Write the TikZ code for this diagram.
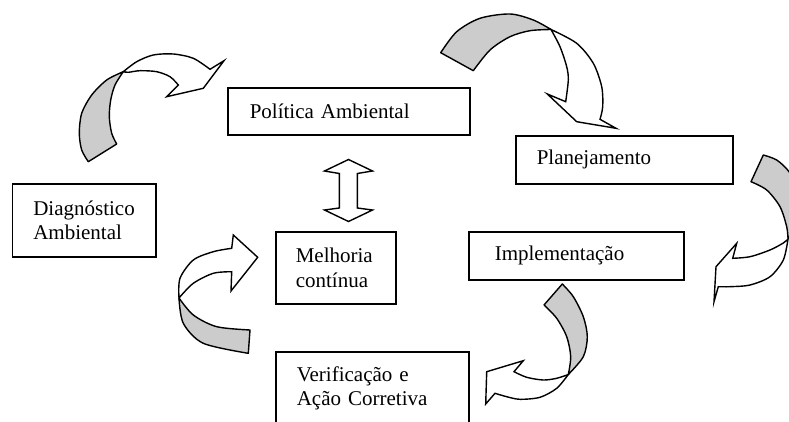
\documentclass[tikz,border=0pt]{standalone}
\usepackage{fontspec}
\setmainfont{Liberation Serif}
\definecolor{ribbon}{RGB}{204,204,204}
\begin{document}
\hyphenpenalty=10000 \exhyphenpenalty=10000
\begin{tikzpicture}[x=1pt,y=-1pt,
  box/.style={draw, line width=1.6pt, anchor=north west, align=left, inner ysep=0pt,
              font=\fontsize{21}{24.5}\selectfont},
  back/.style={fill=ribbon, draw, line width=1.4pt, line join=round},
  front/.style={fill=white, draw, line width=1.4pt, line join=miter}]
\useasboundingbox (0,0) rectangle (789,422);

% boxes
\node[box, inner xsep=22pt, text width=198pt, minimum height=47pt] (pol) at (227,87) {Política Ambiental};
\node[box, inner xsep=21pt, text width=175pt, minimum height=48pt] (plan) at (515,135) {Planejamento};
\node[box, inner xsep=21pt, text width=101.5pt, minimum height=73pt] (diag) at (11.5,183) {Diagnóstico\\Ambiental};
\node[box, inner xsep=20pt, text width=80pt, minimum height=72pt] (melh) at (275,231) {Melhoria\\contínua};
\node[box, inner xsep=26pt, text width=163pt, minimum height=48pt] (impl) at (468,231) {Implementação};
\node[box, inner xsep=21pt, text width=151pt, minimum height=73pt] (verif) at (275,351) {Verificação e\\Ação Corretiva};

% arrow A: Diagnostico -> Politica
\draw[back] plot[smooth] coordinates {(88.3,161.7) (81.7,150) (79.3,133.3) (81.7,113.3) (91.7,95) (106.7,80) (123.3,71.7)}
  -- plot[smooth] coordinates {(123.3,71.7) (115,85) (110.7,100) (109.3,116.7) (111.7,133.3) (116.7,144)} -- cycle;
\draw[front] plot[smooth] coordinates {(123.3,71.7) (136.7,61.7) (153.3,55) (173.3,54) (193.3,58.3) (210,69.3)}
  -- (224,60.7) -- (203.3,88.3) -- (166.7,96.7) -- (178.3,85)
  -- plot[smooth] coordinates {(178.3,85) (170,76.7) (156.7,71.7) (140,70.7) (128.3,72.3) (123.3,71.7)} -- cycle;

% arrow B: Politica -> Planejamento
\draw[back] plot[smooth] coordinates {(440.7,52.7) (456.7,31.7) (480,18.3) (510,14) (533.3,20) (551,29.5)}
  -- plot[smooth] coordinates {(551,29.5) (530,30.7) (510,36.7) (490,50) (473.3,70.7)} -- cycle;
\draw[front] plot[smooth] coordinates {(551,29.5) (576.7,43.3) (593.3,63.3) (601.7,86.7) (602.7,106.7) (600,119.3)}
  -- (616,128.3) -- (576.7,121.7) -- (547.3,94) -- (565.7,101.7)
  -- plot[smooth] coordinates {(565.7,101.7) (568.3,80) (566.7,66.7) (560,46.7) (551,29.5)} -- cycle;

% arrow C: Planejamento -> Implementacao
\draw[back] plot[smooth] coordinates {(763.3,155) (776.7,160) (789,171.7) (798,190) (800,215) (788,239)}
  -- plot[smooth] coordinates {(788,239) (786.7,226.7) (780,206.7) (766.7,190) (751,181.7)} -- cycle;
\draw[front] plot[smooth] coordinates {(788,239) (783.3,260) (770,276.7) (750,285) (730,286.7) (718.3,286.7)}
  -- (714,301.7) -- (716,266.7) -- (736.7,243.3) -- (732.7,258.3)
  -- plot[smooth] coordinates {(732.7,258.3) (750,256.7) (770,250) (783.3,243) (788,239)} -- cycle;

% arrow E: Implementacao -> Verificacao
\draw[back] plot[smooth] coordinates {(562.3,284) (573.3,296.7) (583.3,316.7) (587.3,336.7) (583.3,356.7) (568.3,374.5)}
  -- plot[smooth] coordinates {(568.3,374.5) (570.7,356.7) (566.7,336.7) (556.7,318.3) (544,305)} -- cycle;
\draw[front] plot[smooth] coordinates {(568.3,374.5) (556.7,388.3) (540,397.3) (520,399.3) (506.7,396.7) (495,393.3)}
  -- (485.7,404) -- (486.7,371.7) -- (523.3,360.7) -- (514,371.7)
  -- plot[smooth] coordinates {(514,371.7) (526.7,377.3) (543.3,380) (556.7,378.3) (568.3,374.5)} -- cycle;

% arrow D: Verificacao -> Melhoria
\draw[back] plot[smooth] coordinates {(248.3,353.3) (203.3,343.3) (183.3,323.3) (179,298)}
  -- plot[smooth] coordinates {(179,298) (193.3,315) (216.7,326.7) (250,330)} -- cycle;
\draw[front] plot[smooth] coordinates {(179,298) (180,278.3) (193.3,260) (213.3,251.7) (231.7,248.3)}
  -- (233.3,235) -- (257.7,257.3) -- (231,291) -- (231.7,271.7)
  -- plot[smooth] coordinates {(231.7,271.7) (213.3,273.3) (193.3,283.3) (179,298)} -- cycle;

% double arrow between Politica and Melhoria
\draw[front] (348.5,159.5) -- (372.5,171) -- (357.3,173.5) -- (357.3,208) -- (372.5,210)
  -- (348.5,221.5) -- (324.5,210) -- (339.3,208) -- (339.3,173.5) -- (324.5,171) -- cycle;
\end{tikzpicture}
\end{document}
